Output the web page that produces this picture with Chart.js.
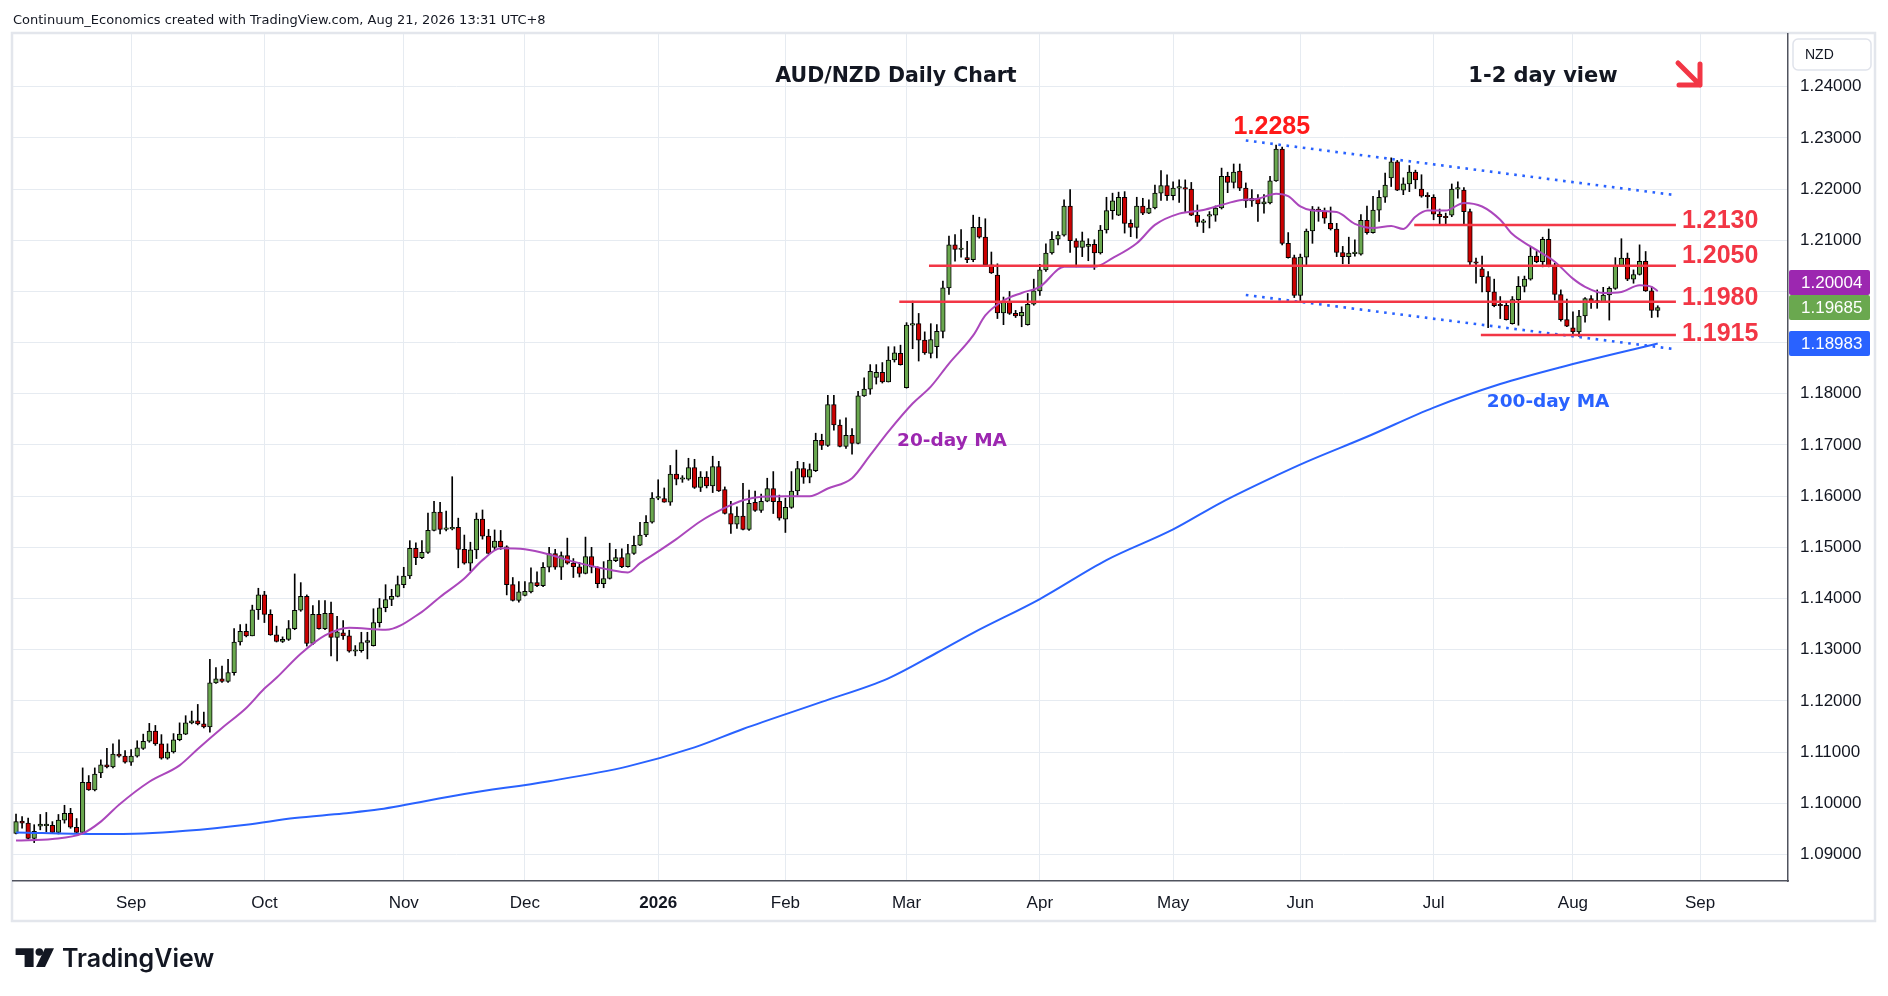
<!DOCTYPE html>
<html>
<head>
<meta charset="utf-8">
<title>AUD/NZD Daily Chart</title>
<script src="https://cdn.jsdelivr.net/npm/chart.js@4.4.1/dist/chart.umd.min.js"></script>
<style>
  html, body { margin: 0; padding: 0; background: #fff; }
  #wrap { position: relative; width: 1888px; height: 996px; }
</style>
</head>
<body>
<div id="wrap"><canvas id="chart"></canvas></div>
<script>
// daily candles, 5 Aug 2025 .. 21 Aug 2026
const opens = [
  1.0941,1.0965,1.0961,1.0931,1.0955,1.0956,1.0957,1.0943,1.0967,1.0980,
  1.0953,1.0943,1.1041,1.1026,1.1059,1.1075,1.1071,1.1096,1.1092,1.1080,
  1.1092,1.1107,1.1121,1.1141,1.1116,1.1088,1.1100,1.1124,1.1135,1.1157,
  1.1161,1.1155,1.1149,1.1235,1.1243,1.1238,1.1255,1.1315,1.1336,1.1327,
  1.1378,1.1407,1.1369,1.1329,1.1316,1.1320,1.1341,1.1377,1.1404,1.1312,
  1.1369,1.1341,1.1371,1.1324,1.1333,1.1327,1.1297,1.1298,1.1314,1.1308,
  1.1353,1.1382,1.1398,1.1404,1.1427,1.1444,1.1498,1.1480,1.1490,1.1533,
  1.1569,1.1535,1.1536,1.1539,1.1496,1.1469,1.1495,1.1555,1.1522,1.1500,
  1.1512,1.1501,1.1427,1.1396,1.1406,1.1413,1.1431,1.1425,1.1461,1.1488,
  1.1461,1.1484,1.1469,1.1462,1.1449,1.1482,1.1461,1.1429,1.1439,1.1474,
  1.1480,1.1462,1.1488,1.1504,1.1524,1.1549,1.1596,1.1595,1.1588,1.1643,
  1.1633,1.1633,1.1656,1.1617,1.1637,1.1620,1.1658,1.1613,1.1566,1.1545,
  1.1561,1.1535,1.1588,1.1572,1.1590,1.1615,1.1590,1.1555,1.1578,1.1610,
  1.1654,1.1637,1.1650,1.1709,1.1699,1.1779,1.1739,1.1697,1.1719,1.1703,
  1.1796,1.1809,1.1832,1.1842,1.1823,1.1866,1.1879,1.1812,1.1934,1.1937,
  1.1905,1.1879,1.1892,1.1922,1.2007,1.2091,1.2082,1.2066,1.2062,1.2125,
  1.2106,1.2052,1.2032,1.1958,1.1980,1.1957,1.1952,1.1935,1.1975,1.2001,
  1.2042,1.2075,1.2102,1.2110,1.2167,1.2099,1.2086,1.2088,1.2092,1.2075,
  1.2120,1.2158,1.2149,1.2184,1.2133,1.2125,1.2167,1.2153,1.2163,1.2192,
  1.2207,1.2187,1.2202,1.2203,1.2200,1.2149,1.2135,1.2147,1.2149,1.2163,
  1.2225,1.2213,1.2235,1.2202,1.2177,1.2182,1.2171,1.2173,1.2216,1.2278,
  1.2094,1.2066,1.1992,1.2067,1.2118,1.2161,1.2157,1.2133,1.2122,1.2076,
  1.2068,1.2074,1.2073,1.2139,1.2115,1.2159,1.2184,1.2222,1.2253,1.2198,
  1.2210,1.2233,1.2200,1.2186,1.2184,1.2151,1.2146,1.2149,1.2200,1.2198,
  1.2156,1.2056,1.2044,1.2029,1.1999,1.1973,1.1973,1.1937,1.1984,1.2010,
  1.2024,1.2069,1.2058,1.2102,1.2050,1.1994,1.1945,1.1929,1.1921,1.1952,
  1.1986,1.1979,1.1980,1.1993,1.2006,1.2051,1.2065,1.2024,1.2033,1.2059,
  1.2001,1.1963
];
const highs = [
  1.0979,1.0974,1.0971,1.0958,1.0978,1.0982,1.0964,1.0978,1.0996,1.0990,
  1.0970,1.1069,1.1054,1.1069,1.1085,1.1107,1.1116,1.1124,1.1103,1.1105,
  1.1122,1.1135,1.1156,1.1152,1.1134,1.1116,1.1136,1.1157,1.1171,1.1180,
  1.1193,1.1178,1.1281,1.1265,1.1268,1.1281,1.1341,1.1349,1.1350,1.1387,
  1.1420,1.1414,1.1378,1.1346,1.1325,1.1357,1.1448,1.1431,1.1407,1.1386,
  1.1396,1.1396,1.1393,1.1365,1.1357,1.1338,1.1308,1.1334,1.1334,1.1380,
  1.1400,1.1427,1.1418,1.1444,1.1461,1.1513,1.1509,1.1513,1.1567,1.1590,
  1.1588,1.1571,1.1638,1.1557,1.1524,1.1510,1.1567,1.1573,1.1535,1.1534,
  1.1533,1.1503,1.1441,1.1433,1.1433,1.1460,1.1452,1.1470,1.1500,1.1496,
  1.1491,1.1518,1.1478,1.1470,1.1520,1.1500,1.1462,1.1472,1.1508,1.1496,
  1.1497,1.1506,1.1522,1.1549,1.1562,1.1607,1.1632,1.1616,1.1660,1.1690,
  1.1640,1.1674,1.1672,1.1648,1.1648,1.1678,1.1668,1.1618,1.1590,1.1579,
  1.1625,1.1612,1.1610,1.1604,1.1635,1.1648,1.1602,1.1596,1.1648,1.1668,
  1.1666,1.1663,1.1723,1.1721,1.1797,1.1797,1.1749,1.1753,1.1732,1.1805,
  1.1831,1.1857,1.1857,1.1861,1.1892,1.1892,1.1895,1.1939,1.1981,1.1957,
  1.1921,1.1937,1.1935,1.2020,1.2108,1.2111,1.2121,1.2098,1.2149,1.2145,
  1.2142,1.2077,1.2054,1.1989,1.2000,1.1963,1.1970,1.1996,1.2024,1.2053,
  1.2093,1.2117,1.2117,1.2179,1.2199,1.2103,1.2116,1.2103,1.2101,1.2129,
  1.2184,1.2192,1.2194,1.2195,1.2140,1.2184,1.2182,1.2179,1.2208,1.2236,
  1.2228,1.2214,1.2218,1.2218,1.2213,1.2169,1.2141,1.2156,1.2167,1.2241,
  1.2233,1.2249,1.2249,1.2212,1.2199,1.2189,1.2189,1.2225,1.2286,1.2282,
  1.2115,1.2071,1.2073,1.2122,1.2166,1.2165,1.2163,1.2165,1.2133,1.2088,
  1.2106,1.2101,1.2150,1.2167,1.2186,1.2197,1.2231,1.2261,1.2256,1.2222,
  1.2246,1.2237,1.2228,1.2193,1.2189,1.2161,1.2153,1.2210,1.2214,1.2203,
  1.2161,1.2065,1.2069,1.2039,1.2024,1.1990,1.1980,1.1990,1.2029,1.2030,
  1.2088,1.2078,1.2106,1.2122,1.2055,1.2003,1.1985,1.1960,1.1963,1.1988,
  1.1992,1.2003,1.2008,1.2009,1.2066,1.2103,1.2075,1.2042,1.2091,1.2078,
  1.2009,1.1972
];
const lows = [
  1.0940,1.0951,1.0930,1.0923,1.0948,1.0944,1.0941,1.0940,1.0961,1.0951,
  1.0941,1.0941,1.1025,1.1024,1.1050,1.1069,1.1069,1.1090,1.1078,1.1074,
  1.1090,1.1105,1.1119,1.1113,1.1086,1.1086,1.1098,1.1122,1.1134,1.1155,
  1.1153,1.1147,1.1139,1.1234,1.1236,1.1236,1.1250,1.1309,1.1325,1.1327,
  1.1359,1.1353,1.1328,1.1315,1.1314,1.1318,1.1339,1.1375,1.1307,1.1310,
  1.1340,1.1339,1.1288,1.1278,1.1320,1.1295,1.1288,1.1295,1.1282,1.1307,
  1.1344,1.1374,1.1386,1.1403,1.1421,1.1439,1.1466,1.1478,1.1488,1.1532,
  1.1526,1.1532,1.1534,1.1460,1.1467,1.1454,1.1478,1.1516,1.1487,1.1495,
  1.1496,1.1407,1.1395,1.1393,1.1405,1.1411,1.1423,1.1423,1.1452,1.1457,
  1.1437,1.1467,1.1441,1.1442,1.1448,1.1450,1.1421,1.1421,1.1438,1.1472,
  1.1460,1.1461,1.1486,1.1503,1.1521,1.1547,1.1593,1.1588,1.1582,1.1622,
  1.1627,1.1631,1.1615,1.1609,1.1616,1.1607,1.1609,1.1565,1.1527,1.1537,
  1.1534,1.1533,1.1570,1.1568,1.1589,1.1566,1.1553,1.1529,1.1576,1.1602,
  1.1625,1.1626,1.1648,1.1691,1.1697,1.1729,1.1696,1.1693,1.1682,1.1702,
  1.1795,1.1799,1.1819,1.1821,1.1823,1.1862,1.1856,1.1811,1.1888,1.1864,
  1.1877,1.1870,1.1870,1.1909,1.1994,1.2059,1.2067,1.2056,1.2058,1.2104,
  1.2051,1.2035,1.1947,1.1935,1.1955,1.1949,1.1931,1.1934,1.1973,1.1992,
  1.2039,1.2073,1.2091,1.2108,1.2076,1.2048,1.2068,1.2060,1.2043,1.2073,
  1.2114,1.2141,1.2148,1.2114,1.2107,1.2104,1.2150,1.2152,1.2161,1.2178,
  1.2178,1.2179,1.2174,1.2156,1.2148,1.2127,1.2115,1.2124,1.2137,1.2161,
  1.2193,1.2202,1.2197,1.2164,1.2166,1.2137,1.2153,1.2171,1.2215,1.2091,
  1.2065,1.1988,1.1982,1.2050,1.2094,1.2137,1.2133,1.2120,1.2068,1.2054,
  1.2054,1.2069,1.2071,1.2112,1.2114,1.2137,1.2174,1.2205,1.2197,1.2189,
  1.2195,1.2201,1.2184,1.2163,1.2140,1.2132,1.2132,1.2146,1.2182,1.2130,
  1.2052,1.2016,1.1999,1.1929,1.1970,1.1947,1.1944,1.1936,1.1934,1.1999,
  1.2022,1.2056,1.2048,1.2048,1.1983,1.1942,1.1931,1.1914,1.1912,1.1940,
  1.1967,1.1967,1.1978,1.1944,1.2004,1.2050,1.2021,1.2016,1.2032,1.2000,
  1.1949,1.1950
];
const closes = [
  1.0964,1.0961,1.0931,1.0945,1.0959,1.0959,1.0943,1.0967,1.0980,1.0953,
  1.0943,1.1041,1.1026,1.1057,1.1075,1.1071,1.1096,1.1092,1.1080,1.1092,
  1.1108,1.1121,1.1141,1.1116,1.1088,1.1100,1.1124,1.1135,1.1157,1.1161,
  1.1155,1.1149,1.1235,1.1243,1.1238,1.1255,1.1315,1.1336,1.1327,1.1378,
  1.1407,1.1369,1.1329,1.1316,1.1320,1.1341,1.1377,1.1404,1.1312,1.1369,
  1.1341,1.1371,1.1324,1.1335,1.1327,1.1297,1.1298,1.1314,1.1318,1.1353,
  1.1382,1.1398,1.1404,1.1427,1.1444,1.1498,1.1480,1.1490,1.1533,1.1569,
  1.1535,1.1536,1.1538,1.1496,1.1469,1.1495,1.1555,1.1522,1.1488,1.1512,
  1.1501,1.1427,1.1396,1.1413,1.1414,1.1431,1.1425,1.1461,1.1488,1.1461,
  1.1484,1.1469,1.1462,1.1449,1.1482,1.1461,1.1429,1.1439,1.1475,1.1480,
  1.1462,1.1488,1.1504,1.1524,1.1549,1.1596,1.1597,1.1588,1.1643,1.1633,
  1.1634,1.1656,1.1617,1.1637,1.1620,1.1658,1.1610,1.1566,1.1545,1.1561,
  1.1535,1.1586,1.1572,1.1590,1.1615,1.1589,1.1557,1.1578,1.1610,1.1654,
  1.1637,1.1652,1.1709,1.1699,1.1779,1.1739,1.1697,1.1719,1.1703,1.1796,
  1.1809,1.1844,1.1842,1.1823,1.1866,1.1880,1.1857,1.1934,1.1937,1.1905,
  1.1880,1.1906,1.1922,1.2007,1.2091,1.2082,1.2083,1.2062,1.2125,1.2106,
  1.2052,1.2036,1.1958,1.1980,1.1957,1.1952,1.1959,1.1975,1.2001,1.2042,
  1.2075,1.2102,1.2110,1.2167,1.2099,1.2086,1.2099,1.2092,1.2075,1.2120,
  1.2158,1.2177,1.2184,1.2133,1.2125,1.2167,1.2153,1.2163,1.2192,1.2207,
  1.2187,1.2202,1.2203,1.2200,1.2149,1.2135,1.2136,1.2148,1.2163,1.2225,
  1.2213,1.2233,1.2202,1.2177,1.2182,1.2171,1.2175,1.2216,1.2278,1.2094,
  1.2066,1.1992,1.2067,1.2118,1.2161,1.2157,1.2143,1.2122,1.2076,1.2068,
  1.2075,1.2075,1.2139,1.2115,1.2159,1.2184,1.2208,1.2253,1.2198,1.2210,
  1.2233,1.2218,1.2186,1.2185,1.2151,1.2146,1.2144,1.2200,1.2201,1.2156,
  1.2057,1.2055,1.2029,1.1999,1.1972,1.1972,1.1945,1.1984,1.2010,1.2024,
  1.2069,1.2058,1.2102,1.2050,1.1994,1.1945,1.1932,1.1921,1.1952,1.1986,
  1.1978,1.1980,1.1993,1.2006,1.2051,1.2065,1.2024,1.2033,1.2059,1.2001,
  1.1963,1.19685
];

// moving averages: candle number -> value
const ma20Day = [1,7,12,15,18,23,28,31,35,39,42,44,48,52,56,62,68,71,75,78,81,85,89,93,99,102,104,107,110,
  114,118,121,124,128,132,135,139,142,145,149,152,155,159,161,164,167,170,174,179,182,186,189,193,197,200,
  203,206,209,211,213,215,219,222,225,228,230,232,234,237,240,243,246,248,251,255,258,260,263,266,269,271,272];
const ma20Val = [1.0927,1.0930,1.0941,1.0964,1.0997,1.1042,1.1074,1.1106,1.1147,1.1186,1.1224,1.1245,1.1292,
  1.1328,1.1343,1.1339,1.1374,1.1403,1.1439,1.1475,1.1498,1.1496,1.1486,1.1472,1.1456,1.1451,1.1469,1.1492,
  1.1516,1.1551,1.1577,1.1592,1.1599,1.1600,1.1600,1.1615,1.1635,1.1680,1.1726,1.1781,1.1814,1.1859,1.1914,
  1.1953,1.1982,1.1997,1.2009,1.2048,1.2048,1.2065,1.2094,1.2130,1.2152,1.2159,1.2169,1.2178,1.2181,1.2191,
  1.2186,1.2166,1.2158,1.2155,1.2132,1.2124,1.2128,1.2122,1.2146,1.2158,1.2158,1.2173,1.2166,1.2140,1.2112,
  1.2088,1.2058,1.2025,1.2009,1.1997,1.1999,1.2012,1.2009,1.20004];
const ma200Day = [1,14,22,29,39,47,55,61,75,89,102,113,121,134,145,153,159,170,181,192,200,209,214,224,235,246,256,272];
const ma200Val = [1.0943,1.0940,1.0941,1.0946,1.0958,1.0971,1.0980,1.0988,1.1018,1.1043,1.1072,1.1109,1.1145,
  1.1198,1.1244,1.1294,1.1333,1.1399,1.1475,1.1535,1.1588,1.1640,1.1667,1.1716,1.1773,1.1819,1.1852,1.18983];

// marked levels and channel
const levels = [1.2130, 1.2050, 1.1980, 1.1915];
const levelText = ['1.2130', '1.2050', '1.1980', '1.1915'];
const highMark = 1.2285;
const channelTop = [1.2295, 1.2188];
const channelBottom = [1.1993, 1.1887];

const monthNames = ['Jan','Feb','Mar','Apr','May','Jun','Jul','Aug','Sep','Oct','Nov','Dec'];

// trading days (weekdays, closed on Christmas and New Year) plus empty space to the right
const closedDays = ['2025-12-25', '2026-01-01'];
const days = [];
for (let d = new Date(Date.UTC(2025, 7, 5)); days.length < 293; d.setUTCDate(d.getUTCDate() + 1)) {
  const wd = d.getUTCDay();
  const iso = d.toISOString().slice(0, 10);
  if (wd === 0 || wd === 6 || closedDays.includes(iso)) continue;
  days.push(iso);
}

const bodies = opens.map((o, i) => [o, closes[i]]);
const wicks = lows.map((l, i) => [l, highs[i]]);
const bodyColors = opens.map((o, i) => closes[i] >= o ? '#6aa84f' : '#cc0000');
const ma20Points = ma20Day.map((n, k) => ({ x: days[n - 1], y: ma20Val[k] }));
const ma200Points = ma200Day.map((n, k) => ({ x: days[n - 1], y: ma200Val[k] }));

const RED = '#f23645';

const decor = {
  id: 'decor',
  beforeDraw(chart) {
    const c = chart.ctx;
    c.save();
    c.fillStyle = '#fff';
    c.fillRect(0, 0, chart.width, chart.height);
    c.strokeStyle = '#e3e6ec';
    c.lineWidth = 2.5;
    c.strokeRect(12, 33, 1863, 888);
    c.restore();
  },
  afterDatasetsDraw(chart) {
    const c = chart.ctx;
    const xs = chart.scales.x, ys = chart.scales.y;
    const px = v => xs.getPixelForValue(v);
    const py = v => ys.getPixelForValue(v);
    const lineEnd = 274;
    const levelFrom = [230.8, 150.7, 145.8, 241.8];
    const textShift = [3, -2.5, 3.5, 6];
    c.save();

    // dotted channel
    c.strokeStyle = '#2962ff';
    c.lineWidth = 2.6;
    c.setLineDash([2.6, 5.6]);
    [channelTop, channelBottom].forEach(ch => {
      c.beginPath();
      c.moveTo(px(203), py(ch[0]));
      c.lineTo(px(lineEnd), py(ch[1]));
      c.stroke();
    });
    c.setLineDash([]);

    // support / resistance
    c.strokeStyle = RED;
    c.lineWidth = 2.5;
    levels.forEach((lv, k) => {
      c.beginPath();
      c.moveTo(px(levelFrom[k]), py(lv));
      c.lineTo(px(lineEnd), py(lv));
      c.stroke();
    });
    c.fillStyle = RED;
    c.font = 'bold 25px "Liberation Sans", Arial, sans-serif';
    c.textAlign = 'left';
    c.textBaseline = 'alphabetic';
    levels.forEach((lv, k) => {
      c.fillText(levelText[k], px(lineEnd) + 6, py(lv) + textShift[k]);
    });

    c.textAlign = 'center';
    c.textBaseline = 'middle';
    c.fillStyle = '#ff1a1a';
    c.fillText(highMark.toFixed(4), px(207.3), py(1.2322));

    c.font = 'bold 18.5px "DejaVu Sans", sans-serif';
    c.fillStyle = '#9c27b0';
    c.fillText('20-day MA', px(154.5), py(1.1708));
    c.fillStyle = '#2962ff';
    c.fillText('200-day MA', px(252.9), py(1.1784));

    // headings
    c.fillStyle = '#131722';
    c.font = 'bold 20.5px "DejaVu Sans", sans-serif';
    c.fillText('AUD/NZD Daily Chart', 896, 77);
    c.font = 'bold 21px "DejaVu Sans", sans-serif';
    c.fillText('1-2 day view', 1543, 77);

    // arrow
    c.strokeStyle = RED;
    c.lineWidth = 5;
    c.lineCap = 'round';
    c.lineJoin = 'round';
    c.beginPath();
    c.moveTo(1678, 63);
    c.lineTo(1700, 85);
    c.moveTo(1700, 64);
    c.lineTo(1700, 85);
    c.lineTo(1679, 85);
    c.stroke();
    c.restore();
  },
  afterDraw(chart) {
    const c = chart.ctx;
    const ys = chart.scales.y;
    c.save();

    // currency box
    c.fillStyle = '#fff';
    c.strokeStyle = '#e0e3eb';
    c.lineWidth = 1.5;
    c.beginPath();
    c.roundRect(1793, 39, 78, 31, 5);
    c.fill();
    c.stroke();
    c.fillStyle = '#131722';
    c.font = '14px "Liberation Sans", Arial, sans-serif';
    c.textAlign = 'left';
    c.textBaseline = 'middle';
    c.fillText('NZD', 1805, 55);

    // last value boxes
    const lastClose = closes[closes.length - 1];
    const last20 = ma20Val[ma20Val.length - 1];
    const last200 = ma200Val[ma200Val.length - 1];
    const yClose = ys.getPixelForValue(lastClose);
    const y200 = ys.getPixelForValue(last200);
    const y20 = Math.min(ys.getPixelForValue(last20), yClose - 25);
    const boxes = [[last20, y20, '#9c27b0'], [lastClose, yClose, '#6aa84f'], [last200, y200, '#2962ff']];
    c.font = '17px "Liberation Sans", Arial, sans-serif';
    boxes.forEach(b => {
      c.fillStyle = b[2];
      c.beginPath();
      c.roundRect(1789, b[1] - 12.5, 81, 25, 2);
      c.fill();
      c.fillStyle = '#fff';
      c.fillText(b[0].toFixed(5), 1801, b[1] + 1);
    });

    // header
    c.fillStyle = '#131722';
    c.font = '13px "DejaVu Sans", sans-serif';
    c.fillText('Continuum_Economics created with TradingView.com, Aug 21, 2026 13:31 UTC+8', 13, 21);

    // TradingView logo
    c.beginPath();
    c.rect(15.6, 948.3, 18, 6.7);
    c.rect(24.6, 948.3, 9, 18.7);
    c.fill();
    c.beginPath();
    c.arc(39.3, 952, 3.8, 0, Math.PI * 2);
    c.fill();
    c.beginPath();
    c.moveTo(45, 948.3);
    c.lineTo(54, 948.3);
    c.lineTo(45, 967);
    c.lineTo(36, 967);
    c.closePath();
    c.fill();
    c.font = '600 25px Inter, "Liberation Sans", sans-serif';
    c.textBaseline = 'alphabetic';
    c.fillText('TradingView', 62, 967);
    c.restore();
  }
};

Chart.defaults.font.family = '"Liberation Sans", Arial, sans-serif';
Chart.defaults.color = '#131722';

new Chart(document.getElementById('chart'), {
  type: 'bar',
  data: {
    labels: days,
    datasets: [
      { type: 'line', label: '20-day MA', data: ma20Points, borderColor: '#ab47bc', borderWidth: 2,
        pointRadius: 0, cubicInterpolationMode: 'monotone', order: 0 },
      { type: 'line', label: '200-day MA', data: ma200Points, borderColor: '#2962ff', borderWidth: 2,
        pointRadius: 0, cubicInterpolationMode: 'monotone', order: 0 },
      { label: 'Body', data: bodies, backgroundColor: bodyColors, borderColor: '#000', borderWidth: 1,
        borderSkipped: false, barThickness: 4.6, minBarLength: 1.5, grouped: false, order: 1 },
      { label: 'Wick', data: wicks, backgroundColor: '#000', barThickness: 1, grouped: false, order: 2 }
    ]
  },
  options: {
    responsive: true,
    maintainAspectRatio: false,
    animation: false,
    devicePixelRatio: 1,
    layout: { padding: { left: 13, top: 34, right: 0, bottom: 75 } },
    plugins: { legend: { display: false }, tooltip: { enabled: false } },
    scales: {
      x: {
        offset: true,
        grid: { offset: false, color: '#e6ebf1', drawTicks: false },
        border: { color: '#50535e', width: 1.5 },
        afterFit: s => { s.height = 40; },
        ticks: {
          autoSkip: false,
          maxRotation: 0,
          minRotation: 0,
          padding: 12,
          color: '#131722',
          font: ctx => ({ size: 17, weight: ctx.tick && ctx.tick.label === '2026' ? 'bold' : 'normal' }),
          callback: (val, i) => {
            const cur = days[i], prev = days[i - 1];
            if (!prev || cur.slice(5, 7) === prev.slice(5, 7)) return null;
            const m = +cur.slice(5, 7);
            return m === 1 ? cur.slice(0, 4) : monthNames[m - 1];
          }
        }
      },
      y: {
        position: 'right',
        min: 1.0848,
        max: 1.2503,
        grid: { color: '#e6ebf1', drawTicks: false },
        border: { color: '#50535e', width: 1.5 },
        afterFit: s => { s.width = 100; },
        ticks: {
          stepSize: 0.01,
          includeBounds: false,
          padding: 12,
          color: '#131722',
          font: { size: 17 },
          callback: v => (v > 1.245 ? null : v.toFixed(5))
        }
      }
    }
  },
  plugins: [decor]
});
</script>
</body>
</html>
